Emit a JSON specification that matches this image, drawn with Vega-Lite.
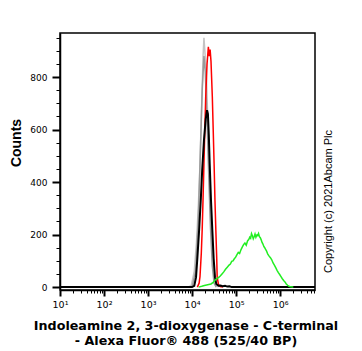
{
  "$schema": "https://vega.github.io/schema/vega-lite/v6.json",
  "width": 255,
  "height": 257,
  "autosize": "none",
  "padding": {"left": 60, "top": 33, "right": 47, "bottom": 61},
  "background": "white",
  "config": {"view": {"stroke": "black", "strokeWidth": 1.5}, "font": "Liberation Sans"},
  "data": {"values": [
    {"s":"g1","x":10,"y":0},{"s":"g1","x":7943,"y":0},{"s":"g1","x":9550,"y":5},{"s":"g1","x":11220,"y":60},{"s":"g1","x":12589,"y":170},{"s":"g1","x":13804,"y":300},{"s":"g1","x":14791,"y":420},{"s":"g1","x":15849,"y":590},{"s":"g1","x":16982,"y":760},{"s":"g1","x":17783,"y":880},{"s":"g1","x":18621,"y":950},{"s":"g1","x":19498,"y":900},{"s":"g1","x":20417,"y":850},{"s":"g1","x":21380,"y":780},{"s":"g1","x":22909,"y":620},{"s":"g1","x":24547,"y":470},{"s":"g1","x":26303,"y":320},{"s":"g1","x":28184,"y":190},{"s":"g1","x":30200,"y":100},{"s":"g1","x":33113,"y":35},{"s":"g1","x":36308,"y":8},{"s":"g1","x":39811,"y":0},
    {"s":"g2","x":10000,"y":0},{"s":"g2","x":12023,"y":60},{"s":"g2","x":13804,"y":250},{"s":"g2","x":15488,"y":520},{"s":"g2","x":16982,"y":750},{"s":"g2","x":18621,"y":880},{"s":"g2","x":19953,"y":820},{"s":"g2","x":21878,"y":640},{"s":"g2","x":23988,"y":420},{"s":"g2","x":26303,"y":220},{"s":"g2","x":28840,"y":80},{"s":"g2","x":31623,"y":15},{"s":"g2","x":35481,"y":0},
    {"s":"r","x":13183,"y":0},{"s":"r","x":14454,"y":15},{"s":"r","x":15136,"y":40},{"s":"r","x":16218,"y":130},{"s":"r","x":16982,"y":220},{"s":"r","x":17783,"y":340},{"s":"r","x":18621,"y":470},{"s":"r","x":19498,"y":600},{"s":"r","x":20417,"y":725},{"s":"r","x":21878,"y":850},{"s":"r","x":23442,"y":915},{"s":"r","x":24547,"y":880},{"s":"r","x":25704,"y":905},{"s":"r","x":26915,"y":860},{"s":"r","x":28840,"y":725},{"s":"r","x":30200,"y":600},{"s":"r","x":31623,"y":472},{"s":"r","x":33113,"y":330},{"s":"r","x":34674,"y":217},{"s":"r","x":36308,"y":110},{"s":"r","x":37154,"y":38},{"s":"r","x":39811,"y":10},{"s":"r","x":43652,"y":2},{"s":"r","x":50119,"y":0},
    {"s":"k","x":10,"y":0},{"s":"k","x":10000,"y":0},{"s":"k","x":11220,"y":5},{"s":"k","x":12303,"y":38},{"s":"k","x":13183,"y":110},{"s":"k","x":14454,"y":217},{"s":"k","x":15849,"y":340},{"s":"k","x":16982,"y":446},{"s":"k","x":18621,"y":560},{"s":"k","x":20417,"y":640},{"s":"k","x":21878,"y":674},{"s":"k","x":22909,"y":660},{"s":"k","x":23988,"y":580},{"s":"k","x":25119,"y":472},{"s":"k","x":26915,"y":330},{"s":"k","x":28840,"y":217},{"s":"k","x":30903,"y":110},{"s":"k","x":33113,"y":38},{"s":"k","x":35481,"y":12},{"s":"k","x":39811,"y":5},{"s":"k","x":44668,"y":6},{"s":"k","x":50119,"y":3},{"s":"k","x":56234,"y":5},{"s":"k","x":63096,"y":2},{"s":"k","x":70795,"y":3},{"s":"k","x":79433,"y":0},{"s":"k","x":6200000,"y":0},
    {"s":"gr","x":14125,"y":0},{"s":"gr","x":16596,"y":3},{"s":"gr","x":19055,"y":6},{"s":"gr","x":21380,"y":8},{"s":"gr","x":23988,"y":10},{"s":"gr","x":26915,"y":12},{"s":"gr","x":30200,"y":18},{"s":"gr","x":33113,"y":26},{"s":"gr","x":36308,"y":32},{"s":"gr","x":39811,"y":36},{"s":"gr","x":43652,"y":42},{"s":"gr","x":47863,"y":50},{"s":"gr","x":52481,"y":58},{"s":"gr","x":57544,"y":68},{"s":"gr","x":63096,"y":76},{"s":"gr","x":69183,"y":84},{"s":"gr","x":74131,"y":88},{"s":"gr","x":79433,"y":98},{"s":"gr","x":85114,"y":100},{"s":"gr","x":91201,"y":108},{"s":"gr","x":97724,"y":114},{"s":"gr","x":104710,"y":124},{"s":"gr","x":112200,"y":132},{"s":"gr","x":120230,"y":128},{"s":"gr","x":128820,"y":142},{"s":"gr","x":138040,"y":152},{"s":"gr","x":147910,"y":162},{"s":"gr","x":158490,"y":168},{"s":"gr","x":169820,"y":160},{"s":"gr","x":181970,"y":176},{"s":"gr","x":194980,"y":182},{"s":"gr","x":204170,"y":190},{"s":"gr","x":213800,"y":186},{"s":"gr","x":223870,"y":204},{"s":"gr","x":234420,"y":196},{"s":"gr","x":245470,"y":184},{"s":"gr","x":257040,"y":192},{"s":"gr","x":269150,"y":202},{"s":"gr","x":281840,"y":190},{"s":"gr","x":295120,"y":198},{"s":"gr","x":309030,"y":196},{"s":"gr","x":323590,"y":204},{"s":"gr","x":338840,"y":192},{"s":"gr","x":354810,"y":188},{"s":"gr","x":371540,"y":180},{"s":"gr","x":389050,"y":170},{"s":"gr","x":407380,"y":164},{"s":"gr","x":426580,"y":155},{"s":"gr","x":446680,"y":150},{"s":"gr","x":467740,"y":144},{"s":"gr","x":489780,"y":138},{"s":"gr","x":524810,"y":126},{"s":"gr","x":562340,"y":118},{"s":"gr","x":602560,"y":112},{"s":"gr","x":645650,"y":104},{"s":"gr","x":691830,"y":92},{"s":"gr","x":741310,"y":84},{"s":"gr","x":794330,"y":74},{"s":"gr","x":851140,"y":64},{"s":"gr","x":912010,"y":55},{"s":"gr","x":977240,"y":48},{"s":"gr","x":1047100,"y":40},{"s":"gr","x":1122000,"y":32},{"s":"gr","x":1202300,"y":25},{"s":"gr","x":1288200,"y":20},{"s":"gr","x":1380400,"y":12},{"s":"gr","x":1479100,"y":7},{"s":"gr","x":1584900,"y":3},{"s":"gr","x":1737800,"y":1},{"s":"gr","x":1995300,"y":0}
  ]},
  "encoding": {
    "x": {"field": "x", "type": "quantitative",
      "scale": {"type": "log", "domain": [10, 6200000], "nice": false},
      "axis": {
        "values": [10,20,30,40,50,60,70,80,90,100,200,300,400,500,600,700,800,900,1000,2000,3000,4000,5000,6000,7000,8000,9000,10000,20000,30000,40000,50000,60000,70000,80000,90000,100000,200000,300000,400000,500000,600000,700000,800000,900000,1000000,2000000,3000000,4000000,5000000,6000000],
        "labelExpr": "datum.value==10?'10¹':datum.value==100?'10²':datum.value==1000?'10³':datum.value==10000?'10⁴':datum.value==100000?'10⁵':datum.value==1000000?'10⁶':''",
        "labelFont": "DejaVu Sans", "labelFontSize": 9.5, "labelColor": "black",
        "labelBaseline": "alphabetic", "labelPadding": 11, "labelDx": 8,
        "labelOverlap": false, "labelBound": false, "labelFlush": false,
        "tickColor": "black",
        "tickSize": {"condition": {"test": "indexof([10,100,1000,10000,100000,1000000], datum.value) >= 0", "value": 6}, "value": 3},
        "tickWidth": {"condition": {"test": "indexof([10,100,1000,10000,100000,1000000], datum.value) >= 0", "value": 2}, "value": 1},
        "domainColor": "black", "domainWidth": 1.5, "grid": false,
        "title": ["Indoleamine 2, 3-dioxygenase - C-terminal", "- Alexa Fluor® 488  (525/40 BP)"],
        "titleFont": "DejaVu Sans", "titleFontSize": 12.7, "titleFontWeight": "bold", "titleColor": "black",
        "titleLineHeight": 14.5, "titleBaseline": "alphabetic", "titleAlign": "center",
        "titleX": 125.5, "titleY": 39.5
      }}
  },
  "layer": [
    {
      "encoding": {
        "y": {"field": "y", "type": "quantitative",
          "scale": {"domain": [-11, 968], "nice": false, "zero": false},
          "axis": {
            "values": [0,50,100,150,200,250,300,350,400,450,500,550,600,650,700,750,800,850,900,950],
            "labelExpr": "datum.value % 200 == 0 ? datum.label : ''",
            "labelFont": "DejaVu Sans", "labelFontSize": 9, "labelColor": "black", "labelPadding": 5,
            "labelOverlap": false, "labelBound": false, "labelFlush": false,
            "tickColor": "black",
            "tickSize": {"condition": {"test": "datum.value % 200 == 0", "value": 8}, "value": 4},
            "tickWidth": {"condition": {"test": "datum.value % 200 == 0", "value": 2}, "value": 1},
            "domainColor": "black", "domainWidth": 1.5, "grid": false,
            "title": "Counts", "titleFont": "Liberation Sans", "titleFontSize": 14, "titleFontWeight": "bold", "titleColor": "black",
            "titleAngle": 270, "titleAlign": "center", "titleBaseline": "middle", "titleX": -43.5, "titleY": 109.5
          }}
      },
      "layer": [
        {"transform": [{"filter": "datum.s=='g1'"}], "mark": {"type": "line", "color": "#c4c4c4", "strokeWidth": 1.5}},
        {"transform": [{"filter": "datum.s=='g2'"}], "mark": {"type": "line", "color": "#9a9a9a", "strokeWidth": 1.5}},
        {"transform": [{"filter": "datum.s=='r'"}], "mark": {"type": "line", "color": "#ff0000", "strokeWidth": 1.5}},
        {"transform": [{"filter": "datum.s=='k'"}], "mark": {"type": "line", "color": "#000000", "strokeWidth": 2}},
        {"transform": [{"filter": "datum.s=='gr'"}], "mark": {"type": "line", "color": "#22ee22", "strokeWidth": 1.5}}
      ]
    },
    {
      "transform": [{"filter": "datum.s=='k'"}],
      "mark": {"type": "point", "opacity": 0},
      "encoding": {
        "y": {"field": "y", "type": "quantitative", "scale": {"domain": [-11, 968], "nice": false, "zero": false},
          "axis": {"orient": "right", "domain": false, "ticks": false, "labels": false, "grid": false,
            "title": "Copyright (c) 2021Abcam Plc", "titleFont": "Liberation Sans", "titleFontSize": 11, "titleFontWeight": "normal", "titleColor": "black",
            "titleAngle": 270, "titleAlign": "center", "titleBaseline": "middle", "titleX": 13, "titleY": 168}}
      }
    }
  ],
  "resolve": {"axis": {"y": "independent"}}
}
